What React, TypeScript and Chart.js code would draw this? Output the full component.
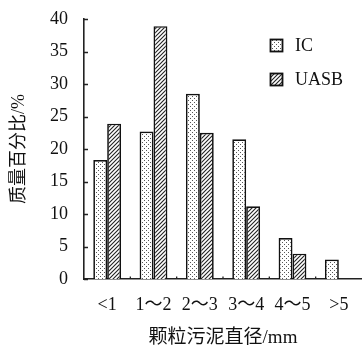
import React, { useEffect, useRef } from "react";
import { Chart, registerables } from "chart.js";

Chart.register(...registerables);

const categories = ["<1", "1～2", "2～3", "3～4", "4～5", ">5"];
const icValues = [18.3, 22.7, 28.5, 21.5, 6.3, 3.0];
const uasbValues = [23.9, 38.9, 22.5, 11.2, 3.9, 0];
const seriesNames = ["IC", "UASB"];
const yTicks = [0, 5, 10, 15, 20, 25, 30, 35, 40];
const xTitle = "颗粒污泥直径/mm";
const yTitle = "质量百分比/%";

const SERIF = "'Liberation Serif', 'Noto Sans CJK SC', serif";

function dotPattern(): CanvasPattern | string {
  const c = document.createElement("canvas");
  c.width = 4;
  c.height = 4;
  const g = c.getContext("2d");
  if (!g) return "#fff";
  g.fillStyle = "#ffffff";
  g.fillRect(0, 0, 4, 4);
  g.fillStyle = "#555555";
  g.fillRect(0, 0, 1, 1);
  g.fillRect(2, 2, 1, 1);
  return g.createPattern(c, "repeat") || "#fff";
}

function hatchPattern(): CanvasPattern | string {
  const c = document.createElement("canvas");
  c.width = 4;
  c.height = 4;
  const g = c.getContext("2d");
  if (!g) return "#888";
  g.fillStyle = "#ffffff";
  g.fillRect(0, 0, 4, 4);
  g.strokeStyle = "#222222";
  g.lineWidth = 1.1;
  g.beginPath();
  g.moveTo(-1, 5);
  g.lineTo(5, -1);
  g.moveTo(-1, 1);
  g.lineTo(1, -1);
  g.moveTo(3, 5);
  g.lineTo(5, 3);
  g.stroke();
  return g.createPattern(c, "repeat") || "#888";
}

const inwardTicks = {
  id: "inwardTicks",
  afterDatasetsDraw(chart: any) {
    const { ctx, scales } = chart;
    const y = scales.y;
    const x = scales.x;
    ctx.save();
    ctx.strokeStyle = "#222";
    ctx.lineWidth = 1.3;
    ctx.beginPath();
    for (const v of yTicks) {
      const py = Math.round(y.getPixelForValue(v)) + 0.5;
      ctx.moveTo(x.left, py);
      ctx.lineTo(x.left + 4, py);
    }
    const by = y.getPixelForValue(0);
    for (let i = 0; i < categories.length - 1; i++) {
      const px = (x.getPixelForValue(i) + x.getPixelForValue(i + 1)) / 2;
      ctx.moveTo(px, by);
      ctx.lineTo(px, by - 2.5);
    }
    ctx.stroke();
    ctx.restore();
  },
};

const boxLegend = {
  id: "boxLegend",
  afterDraw(chart: any) {
    const { ctx } = chart;
    const dsets = chart.data.datasets;
    ctx.save();
    dsets.forEach((ds: any, i: number) => {
      const bx = 270.5;
      const byy = 39.5 + i * 34;
      ctx.fillStyle = ds.backgroundColor;
      ctx.fillRect(bx, byy, 12, 12);
      ctx.strokeStyle = "#111";
      ctx.lineWidth = 1.8;
      ctx.strokeRect(bx, byy, 12, 12);
      ctx.fillStyle = "#111";
      ctx.font = "18px " + SERIF;
      ctx.textBaseline = "middle";
      ctx.textAlign = "left";
      ctx.fillText(ds.label, 295, byy + 7);
    });
    ctx.restore();
  },
};

export default function App() {
  const ref = useRef<HTMLCanvasElement | null>(null);
  useEffect(() => {
    document.body.style.margin = "0";
    const canvas = ref.current;
    if (!canvas) return;
    const chart = new Chart(canvas, {
      type: "bar",
      data: {
        labels: categories,
        datasets: [
          {
            label: seriesNames[0],
            data: icValues,
            backgroundColor: dotPattern() as any,
            borderColor: "#111",
            borderWidth: { top: 1.7, left: 1.7, right: 1.7, bottom: 0 } as any,
            barPercentage: 1,
            categoryPercentage: 0.6,
          },
          {
            label: seriesNames[1],
            data: uasbValues,
            backgroundColor: hatchPattern() as any,
            borderColor: "#111",
            borderWidth: { top: 1.7, left: 1.7, right: 1.7, bottom: 0 } as any,
            barPercentage: 1,
            categoryPercentage: 0.6,
          },
        ],
      },
      options: {
        animation: false,
        responsive: false,
        maintainAspectRatio: false,
        layout: { padding: { top: 19, right: 0, left: 0, bottom: 0 } },
        plugins: {
          legend: { display: false },
          tooltip: { enabled: false },
        },
        scales: {
          x: {
            offset: true,
            grid: { display: false, drawTicks: false },
            border: { display: true, color: "#222", width: 1.6 },
            ticks: {
              color: "#111",
              font: { family: SERIF, size: 18 },
              padding: 15,
              maxRotation: 0,
              autoSkip: false,
            },
            title: {
              display: true,
              text: xTitle,
              color: "#111",
              font: { family: SERIF, size: 19 },
              padding: { top: 0, bottom: -2 },
            },
            afterFit: (s: any) => {
              s.height = 68;
              s.paddingLeft = 0;
              s.paddingRight = 0;
            },
          },
          y: {
            min: 0,
            max: 40,
            grid: { display: false, drawTicks: false },
            border: { display: true, color: "#222", width: 1.6 },
            afterBuildTicks: (s: any) => {
              s.ticks = yTicks.map((v) => ({ value: v }));
            },
            ticks: {
              color: "#111",
              font: { family: SERIF, size: 18 },
              padding: 16,
            },
            title: {
              display: true,
              text: yTitle,
              color: "#111",
              font: { family: SERIF, size: 18 },
              padding: { top: 8, bottom: 0 },
            },
            afterFit: (s: any) => {
              s.width = 84;
              s.paddingTop = 0;
              s.paddingBottom = 0;
            },
          },
        },
      },
      plugins: [inwardTicks, boxLegend],
    });
    return () => chart.destroy();
  }, []);
  return (
    <div style={{ width: 362, height: 347, background: "#fff" }}>
      <canvas ref={ref} width={362} height={347} style={{ display: "block", width: 362, height: 347 }} />
    </div>
  );
}
